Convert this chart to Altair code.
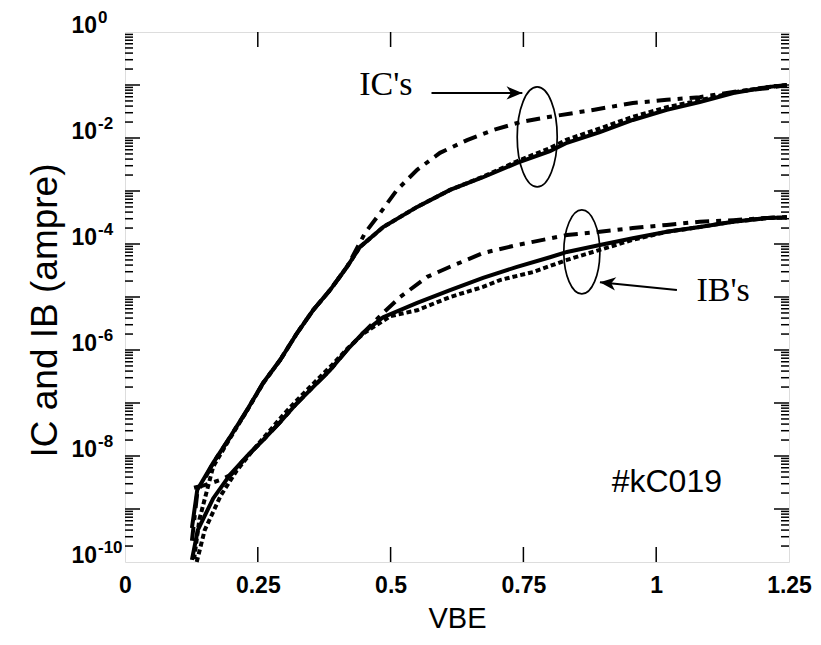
import altair as alt
import pandas as pd

# ---------------- data ----------------
# exponents are log10 of the current in ampere
ic_solid_vbe = [0.126, 0.136, 0.166, 0.198, 0.230, 0.260, 0.292, 0.324, 0.354, 0.386, 0.418, 0.442,
                0.486, 0.550, 0.612, 0.674, 0.738, 0.800, 0.832, 0.894, 0.956, 1.020, 1.082, 1.145, 1.209, 1.246]
ic_solid_exp = [-9.36, -8.64, -8.13, -7.64, -7.13, -6.62, -6.19, -5.68, -5.25, -4.87, -4.43, -4.06,
                -3.68, -3.30, -2.98, -2.74, -2.47, -2.25, -2.09, -1.89, -1.66, -1.47, -1.32, -1.15, -1.04, -1.00]

ic_dot_vbe = [0.130, 0.140, 0.166, 0.198, 0.230, 0.260, 0.292, 0.324, 0.354, 0.386, 0.418, 0.442,
              0.486, 0.550, 0.612, 0.674, 0.738, 0.800, 0.832, 0.894, 0.956, 1.020, 1.082, 1.145, 1.209, 1.246]
ic_dot_exp = [-9.95, -9.20, -8.20, -7.66, -7.14, -6.63, -6.19, -5.68, -5.25, -4.87, -4.43, -4.06,
              -3.68, -3.30, -2.98, -2.73, -2.44, -2.19, -2.03, -1.82, -1.60, -1.42, -1.29, -1.14, -1.04, -1.00]

ic_dd_vbe = [0.126, 0.136, 0.166, 0.198, 0.230, 0.260, 0.292, 0.324, 0.354, 0.386, 0.418, 0.442,
             0.452, 0.480, 0.512, 0.550, 0.593, 0.644, 0.693, 0.744, 0.800, 0.881, 0.956, 1.020, 1.082, 1.145, 1.209, 1.246]
ic_dd_exp = [-9.60, -8.70, -8.13, -7.64, -7.13, -6.62, -6.19, -5.68, -5.25, -4.87, -4.43, -3.98,
             -3.79, -3.42, -2.98, -2.60, -2.28, -2.04, -1.85, -1.70, -1.60, -1.47, -1.34, -1.28, -1.23, -1.13, -1.06, -1.00]

ib_solid_vbe = [0.126, 0.137, 0.166, 0.198, 0.230, 0.260, 0.292, 0.324, 0.354, 0.386, 0.418, 0.448,
                0.486, 0.550, 0.612, 0.674, 0.738, 0.800, 0.832, 0.894, 0.956, 1.020, 1.082, 1.145, 1.209, 1.246]
ib_solid_exp = [-9.96, -9.40, -8.80, -8.35, -8.00, -7.70, -7.36, -7.00, -6.70, -6.38, -6.00, -5.68,
                -5.38, -5.11, -4.87, -4.64, -4.43, -4.25, -4.15, -4.02, -3.89, -3.77, -3.68, -3.58, -3.51, -3.50]

ib_dot_vbe = [0.135, 0.150, 0.180, 0.210, 0.240, 0.270, 0.300, 0.330, 0.360, 0.390, 0.420, 0.450,
              0.500, 0.550, 0.612, 0.674, 0.706, 0.768, 0.832, 0.894, 0.956, 1.020, 1.082, 1.145, 1.209, 1.246]
ib_dot_exp = [-10.00, -9.40, -8.75, -8.28, -7.90, -7.55, -7.20, -6.88, -6.58, -6.28, -5.96, -5.68,
              -5.36, -5.25, -5.00, -4.81, -4.68, -4.53, -4.30, -4.11, -3.92, -3.77, -3.68, -3.58, -3.51, -3.50]

ib_dd_vbe = [0.130, 0.150, 0.180, 0.200, 0.230, 0.260, 0.292, 0.324, 0.354, 0.386, 0.418, 0.448,
             0.486, 0.518, 0.569, 0.612, 0.674, 0.738, 0.768, 0.832, 0.894, 0.956, 1.020, 1.082, 1.145, 1.209, 1.246]
ib_dd_exp = [-8.60, -8.55, -8.45, -8.35, -8.00, -7.70, -7.36, -7.00, -6.70, -6.38, -6.00, -5.68,
             -5.30, -5.00, -4.62, -4.43, -4.17, -4.02, -3.96, -3.83, -3.77, -3.70, -3.64, -3.58, -3.55, -3.51, -3.49]

x_tick_values = [0, 0.25, 0.5, 0.75, 1.0, 1.25]
y_label_exps = [0, -2, -4, -6, -8, -10]
decade_exps = list(range(-10, 1))
minor_multipliers = [2, 3, 4, 5, 6, 7, 8, 9]

# annotation anchors (data units: VBE, log10 I)
ic_ellipse = (0.776, -1.98)
ib_ellipse = (0.860, -4.15)
ic_arrow = (0.577, 0.748, -1.15, -1.15)
ib_arrow = (1.039, 0.894, -4.87, -4.72)
ic_text = (0.491, -1.0)
ib_text = (1.126, -4.89)
id_text = (1.020, -8.49)

# ---------------- build tables ----------------
series = [
    ("IC dd", "dashdot", ic_dd_vbe, ic_dd_exp),
    ("IB dd", "dashdot", ib_dd_vbe, ib_dd_exp),
    ("IC dot", "dotted", ic_dot_vbe, ic_dot_exp),
    ("IB dot", "dotted", ib_dot_vbe, ib_dot_exp),
    ("IC solid", "solid", ic_solid_vbe, ic_solid_exp),
    ("IB solid", "solid", ib_solid_vbe, ib_solid_exp),
]
rows = []
for name, style, vs, es in series:
    for v, e in zip(vs, es):
        rows.append({"series": name, "style": style, "vbe": v, "I": 10.0 ** e})
df = pd.DataFrame(rows)

SANS = "Liberation Sans"
SERIF = "Liberation Serif"
W, H = 664, 530

x_scale = alt.Scale(domain=[0, 1.25], nice=False, zero=False)
y_scale = alt.Scale(type="log", domain=[1e-10, 1], nice=False)
x_axis = alt.Axis(values=x_tick_values, labelExpr="'' + datum.value", labelFont=SANS, labelFontSize=23,
                  labelFontWeight="bold", labelColor="black", ticks=False, domain=False, grid=False,
                  labelPadding=12, labelFlush=False, title="VBE", titleFont=SANS, titleFontSize=29,
                  titleFontWeight="normal", titleColor="black", titleY=56, titleBaseline="middle")
y_axis = alt.Axis(labels=False, ticks=False, domain=False, grid=False, title="IC and IB (ampre)",
                  titleFont=SANS, titleFontSize=37, titleFontWeight="normal", titleColor="black",
                  titleX=-80, titleY=278, titleBaseline="middle", titleAlign="center", titleAngle=270)

X = lambda f="vbe": alt.X(f"{f}:Q", scale=x_scale, axis=x_axis)
Y = lambda f="I": alt.Y(f"{f}:Q", scale=y_scale, axis=y_axis)


def lines(style, **kw):
    return alt.Chart(df[df["style"] == style]).mark_line(
        color="black", strokeWidth=4, strokeCap="butt", **kw
    ).encode(x=X(), y=Y(), detail="series:N", order="vbe:Q")


layers = [
    lines("dashdot", strokeDash=[14, 7, 5, 7]),
    lines("dotted", strokeDash=[5, 3]),
    lines("solid"),
]

# ticks inside the frame
major = pd.DataFrame({"I": [10.0 ** k for k in decade_exps[1:-1]]})
minor = pd.DataFrame({"I": [m * 10.0 ** k for k in decade_exps[:-1] for m in minor_multipliers]})
for data, length in ((major, 15), (minor, 8)):
    layers.append(alt.Chart(data).mark_rule(color="black", strokeWidth=1.5).encode(
        y=Y(), x=alt.value(0), x2=alt.value(length)))
    layers.append(alt.Chart(data).mark_rule(color="black", strokeWidth=1.5).encode(
        y=Y(), x=alt.value(W), x2=alt.value(W - length)))
xt = pd.DataFrame({"vbe": x_tick_values[1:-1]})
layers.append(alt.Chart(xt).mark_rule(color="black", strokeWidth=1.5).encode(
    x=X(), y=alt.value(H), y2=alt.value(H - 15)))
layers.append(alt.Chart(xt).mark_rule(color="black", strokeWidth=1.5).encode(
    x=X(), y=alt.value(0), y2=alt.value(15)))

# y tick labels 10^k
ylab = pd.DataFrame({"I": [10.0 ** e for e in y_label_exps], "exp": [str(e) for e in y_label_exps]})
layers.append(alt.Chart(ylab).mark_text(font=SANS, fontSize=23, fontWeight="bold", align="right",
                                        baseline="alphabetic", dy=1, color="black").encode(
    y=Y(), x=alt.value(-28), text=alt.value("10")))
layers.append(alt.Chart(ylab).mark_text(font=SANS, fontSize=17, fontWeight="bold", align="left",
                                        baseline="alphabetic", dy=-9, color="black").encode(
    y=Y(), x=alt.value(-27), text="exp:N"))

# ellipses
ellipse_path = "M0,-1 A{r},1 0 1,1 0,1 A{r},1 0 1,1 0,-1 Z"
for (v, e), rx, ry in ((ic_ellipse, 20, 50), (ib_ellipse, 18, 42)):
    layers.append(alt.Chart(pd.DataFrame({"vbe": [v], "I": [10.0 ** e]})).mark_point(
        shape=ellipse_path.format(r=round(rx / ry, 3)), size=(2 * ry) ** 2, filled=False,
        color="black", strokeWidth=1.7, opacity=1).encode(x=X(), y=Y()))

# arrows
head = "M0,0 L-1,-0.42 L-0.72,0 L-1,0.42 Z"
for (v1, v2, e1, e2), ang in ((ic_arrow, 0), (ib_arrow, 186)):
    adf = pd.DataFrame({"vbe": [v1], "vbe2": [v2], "I": [10.0 ** e1], "I2": [10.0 ** e2]})
    layers.append(alt.Chart(adf).mark_rule(color="black", strokeWidth=2).encode(
        x=X(), x2="vbe2:Q", y=Y(), y2="I2:Q"))
    layers.append(alt.Chart(pd.DataFrame({"vbe": [v2], "I": [10.0 ** e2]})).mark_point(
        shape=head, size=1000, filled=True, color="black", opacity=1, angle=ang).encode(x=X(), y=Y()))

# text annotations
for (v, e), txt, font, size, weight in ((ic_text, "IC's", SERIF, 34, "normal"),
                                        (ib_text, "IB's", SERIF, 34, "normal"),
                                        (id_text, "#kC019", SANS, 32, "normal")):
    layers.append(alt.Chart(pd.DataFrame({"vbe": [v], "I": [10.0 ** e], "t": [txt]})).mark_text(
        font=font, fontSize=size, fontWeight=weight, color="black", align="center",
        baseline="middle").encode(x=X(), y=Y(), text="t:N"))

chart = alt.layer(*layers).properties(
    width=W, height=H,
    autosize=alt.AutoSizeParams(type="none"),
    padding={"left": 117, "top": 24, "right": 24, "bottom": 75},
).configure_view(stroke="black", strokeWidth=4).configure(background="white")

chart.save("out.html", embed_options={"renderer": "svg", "actions": False})
